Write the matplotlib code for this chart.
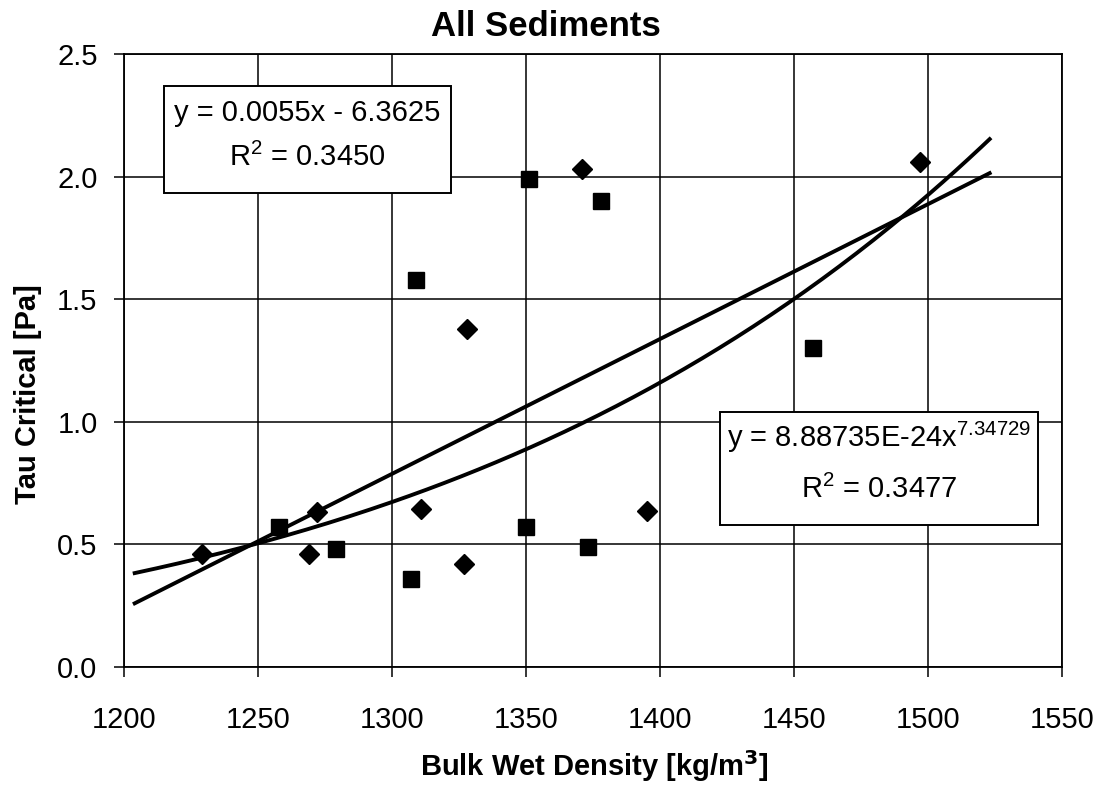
import numpy as np
import matplotlib
matplotlib.use("Agg")
import matplotlib.pyplot as plt
from matplotlib.patches import Rectangle
from matplotlib.ticker import FormatStrFormatter

plt.rcParams['font.family'] = ['Liberation Sans', 'DejaVu Sans']
plt.rcParams['mathtext.fontset'] = 'custom'
plt.rcParams['mathtext.rm'] = 'Liberation Sans'

# data
diamond_x = [1229, 1272, 1269, 1311, 1327, 1328, 1371, 1395, 1497]
diamond_y = [0.46, 0.63, 0.46, 0.645, 0.42, 1.38, 2.03, 0.635, 2.06]
square_x = [1258, 1279, 1307, 1309, 1350, 1351, 1373, 1378, 1457]
square_y = [0.57, 0.48, 0.36, 1.58, 0.57, 1.99, 0.49, 1.90, 1.30]

# trendlines as printed on the chart
lin_slope, lin_icpt = 0.0055, -6.3625
pow_coef, pow_exp = 8.88735e-24, 7.34729
trend_range = (1204, 1523)

x_ticks = [1200, 1250, 1300, 1350, 1400, 1450, 1500, 1550]
y_ticks = [0.0, 0.5, 1.0, 1.5, 2.0, 2.5]

fig = plt.figure(figsize=(11.01, 7.88), dpi=100)
ax = fig.add_axes([0.1126, 0.1536, 0.852, 0.7779])

ax.set_xlim(1200, 1550)
ax.set_ylim(0, 2.5)
ax.set_xticks(x_ticks)
ax.set_yticks(y_ticks)
ax.yaxis.set_major_formatter(FormatStrFormatter('%.1f'))
ax.grid(True, color='black', linewidth=1.1)
ax.set_axisbelow(True)
for s in ax.spines.values():
    s.set_linewidth(1.3)
ax.tick_params(direction='out', length=7, width=1.1, labelsize=21)
ax.tick_params(axis='x', pad=21)
ax.tick_params(axis='y', pad=12)

xs = np.linspace(trend_range[0], trend_range[1], 200)
ax.plot(xs, lin_slope * xs + lin_icpt, color='black', lw=2.8, zorder=3)
ax.plot(xs, pow_coef * xs ** pow_exp, color='black', lw=2.8, zorder=3)

ax.plot(diamond_x, diamond_y, 'D', color='black', markersize=10, zorder=4)
ax.plot(square_x, square_y, 's', color='black', markersize=11, zorder=4)

# equation boxes
ax.add_patch(Rectangle((0.0426, 0.773), 0.306, 0.175, transform=ax.transAxes,
                       facecolor='white', edgecolor='black', lw=1.4, zorder=5))
ax.text(0.195, 0.904, 'y = 0.0055x - 6.3625', transform=ax.transAxes,
        ha='center', va='center', fontsize=21, zorder=6)
ax.text(0.195, 0.832, r'R$^2$ = 0.3450', transform=ax.transAxes,
        ha='center', va='center', fontsize=21, zorder=6)

ax.add_patch(Rectangle((0.635, 0.2316), 0.339, 0.1844, transform=ax.transAxes,
                       facecolor='white', edgecolor='black', lw=1.4, zorder=5))
ax.text(0.805, 0.375, r'y = 8.88735E-24x$^{7.34729}$', transform=ax.transAxes,
        ha='center', va='center', fontsize=21, zorder=6)
ax.text(0.805, 0.289, r'R$^2$ = 0.3477', transform=ax.transAxes,
        ha='center', va='center', fontsize=21, zorder=6)

fig.text(0.496, 0.966, 'All Sediments', ha='center', va='center',
         fontsize=25, fontweight='bold')
fig.text(0.54, 0.028, r'Bulk Wet Density [kg/m$^\mathbf{3}$]', ha='center', va='center',
         fontsize=21, fontweight='bold')
fig.text(0.025, 0.5, 'Tau Critical [Pa]', ha='center', va='center',
         rotation=90, fontsize=21, fontweight='bold')

fig.savefig('out.png', dpi=100)
